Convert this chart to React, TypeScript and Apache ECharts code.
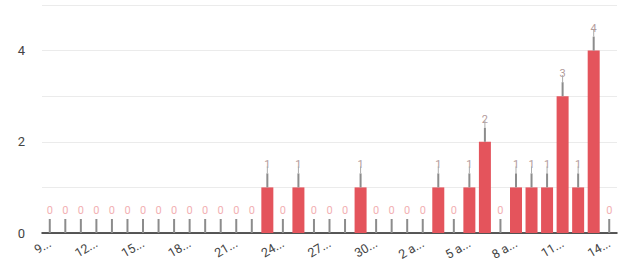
import React, { useEffect, useRef } from "react";
import * as echarts from "echarts";

const categories = [
  "9 mar", "10 mar", "11 mar", "12 mar", "13 mar", "14 mar", "15 mar", "16 mar",
  "17 mar", "18 mar", "19 mar", "20 mar", "21 mar", "22 mar", "23 mar", "24 mar",
  "25 mar", "26 mar", "27 mar", "28 mar", "29 mar", "30 mar", "31 mar",
  "1 abr", "2 abr", "3 abr", "4 abr", "5 abr", "6 abr", "7 abr", "8 abr",
  "9 abr", "10 abr", "11 abr", "12 abr", "13 abr", "14 abr",
];
const values = [
  0, 0, 0, 0, 0, 0, 0, 0, 0, 0, 0, 0, 0, 0, 1, 0, 1, 0, 0, 0, 1, 0, 0,
  0, 0, 1, 0, 1, 2, 0, 1, 1, 1, 3, 1, 4, 0,
];
const yTicks = [0, 2, 4];

const BAR = "#e4545c";

// Approximate width-based truncation, like the original chart's label ellipsis
function shorten(s: string): string {
  const w = (c: string) => (c === " " ? 0.5 : c === "m" ? 1.5 : 1);
  let acc = 0;
  let out = "";
  for (const c of s) {
    acc += w(c);
    if (acc > 2.6) break;
    out += c;
  }
  return out.trimEnd() + "...";
}

export default function App() {
  const ref = useRef<HTMLDivElement>(null);
  useEffect(() => {
    if (!ref.current) return;
    const chart = echarts.init(ref.current, null, { renderer: "svg" });
    chart.setOption({
      animation: false,
      grid: { left: 42, right: 12, top: 5, bottom: 35, containLabel: false },
      xAxis: {
        type: "category",
        data: categories,
        axisLine: { lineStyle: { color: "#222", width: 1.5 } },
        axisTick: { show: false },
        axisLabel: {
          interval: 2,
          rotate: 30,
          fontSize: 12.5,
          color: "#444",
          fontFamily: "Roboto, Arial, sans-serif",
          margin: 9,
          formatter: (v: string) => shorten(v),
        },
      },
      yAxis: {
        type: "value",
        min: 0,
        max: 5,
        interval: 1,
        axisLine: { show: false },
        axisTick: { show: false },
        splitLine: { lineStyle: { color: "#ebebeb", width: 1 } },
        axisLabel: {
          fontSize: 13,
          color: "#444",
          margin: 17,
          fontFamily: "Roboto, Arial, sans-serif",
          formatter: (v: number) => (yTicks.includes(v) ? String(v) : ""),
        },
      },
      series: [
        {
          type: "bar",
          barWidth: 12,
          itemStyle: { color: BAR },
          data: values.map((v) => ({
            value: v,
            label: { color: v === 0 ? "#f2b0b3" : "#b39c9c" },
          })),
          label: {
            show: true,
            position: "top",
            distance: 17,
            fontSize: 11,
            fontFamily: "Roboto, Arial, sans-serif",
          },
          z: 2,
        },
        {
          type: "custom",
          z: 3,
          data: values.map((v, i) => [i, v]),
          renderItem: (params: any, api: any) => {
            const v = api.value(1);
            const p = api.coord([api.value(0), v]);
            const children: any[] = [
              {
                type: "line",
                shape: { x1: p[0], y1: p[1], x2: p[0], y2: p[1] - 14 },
                style: { stroke: "#8c8c8c", lineWidth: 2 },
              },
            ];
            if (v > 0) {
              children.push({
                type: "line",
                shape: { x1: p[0], y1: p[1] - 14, x2: p[0], y2: p[1] - 21 },
                style: { stroke: "#aaaaaa", lineWidth: 1 },
              });
            }
            return { type: "group", children };
          },
        },
      ],
    });
    return () => chart.dispose();
  }, []);
  return (
    <div
      ref={ref}
      style={{ position: "fixed", left: 0, top: 0, width: 629, height: 268, background: "#fff" }}
    />
  );
}
